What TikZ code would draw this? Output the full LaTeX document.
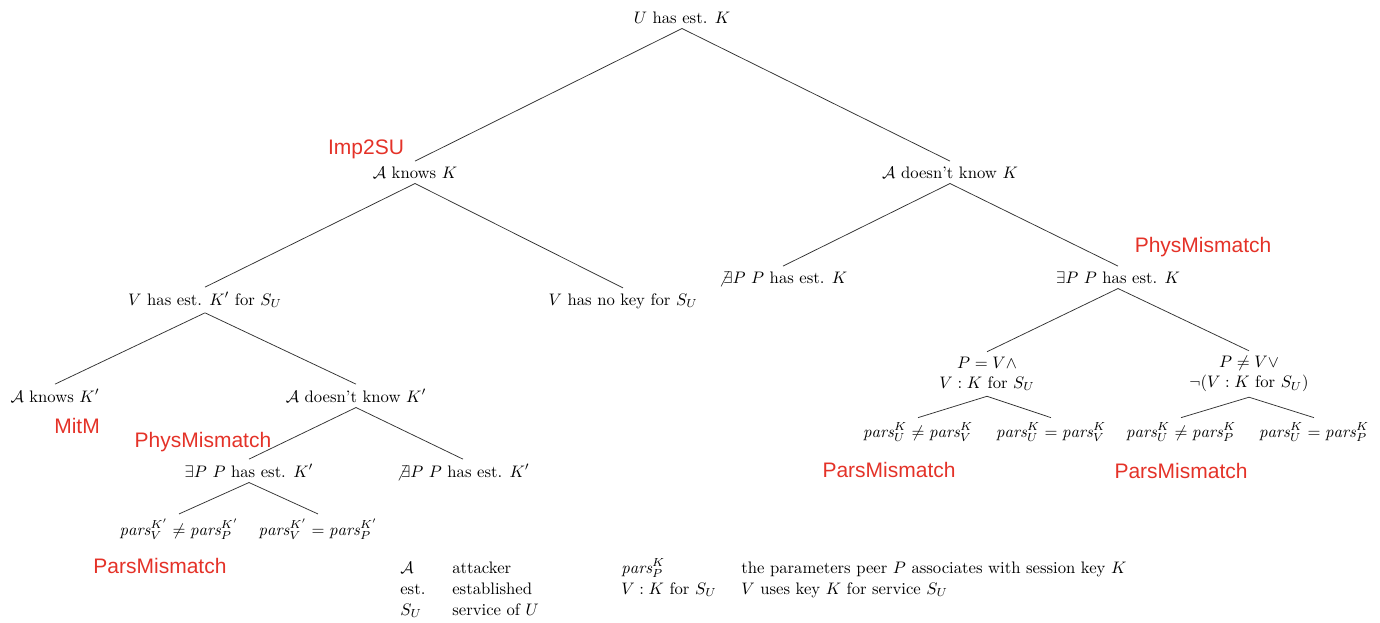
\documentclass[tikz,border=0pt]{standalone}
\usepackage{amsmath,amssymb}
\usepackage{fontspec}
\newfontfamily\labelsans{Liberation Sans}
\definecolor{attackred}{RGB}{228,50,40}
\newcommand{\prs}{\mathit{pars}}
\newcommand{\noexists}{\not\exists}
\begin{document}
\begin{tikzpicture}[x=0.6pt,y=-0.6pt,
  tn/.style={anchor=base,inner sep=3pt},
  tnc/.style={anchor=center,inner sep=3pt,align=center},
  br/.style={draw=black!80,line width=0.45pt},
  attack/.style={anchor=base,inner sep=0pt,text=attackred,font=\labelsans\fontsize{12.6}{15}\selectfont},
  lg/.style={anchor=base west,inner sep=0pt}]
\useasboundingbox (0,0) rectangle (1380,622);

% decision tree
\node[tn] (root) at (682,23) {$U$ has est. $K$};
\node[tn] (ak) at (415,178) {$\mathcal{A}$ knows $K$};
\node[tn] (adk) at (950,178) {$\mathcal{A}$ doesn't know $K$};
\node[tn] (vk) at (205,305) {$V$ has est. $K'$ for $S_U$};
\node[tn] (vno) at (623,305) {$V$ has no key for $S_U$};
\node[tn] (nex) at (783,283) {$\noexists P$ $P$ has est. $K$};
\node[tn] (ex) at (1118,283) {$\exists P$ $P$ has est. $K$};
\node[tn] (akp) at (55,402) {$\mathcal{A}$ knows $K'$};
\node[tn] (adkp) at (356,402) {$\mathcal{A}$ doesn't know $K'$};
\node[tnc] (pv) at (987,374) {$P = V \wedge$\\$V : K$ for $S_U$};
\node[tnc] (pnv) at (1249,374) {$P \neq V \vee$\\$\neg(V : K$ for $S_U)$};
\node[tn] (exp) at (249,477) {$\exists P$ $P$ has est. $K'$};
\node[tn] (nexp) at (463,477) {$\noexists P$ $P$ has est. $K'$};
\node[tn] (q1) at (179,535) {$\prs_V^{K'} \neq \prs_P^{K'}$};
\node[tn] (q2) at (318,535) {$\prs_V^{K'} = \prs_P^{K'}$};
\node[tn] (r1) at (918,437) {$\prs_U^{K} \neq \prs_V^{K}$};
\node[tn] (r2) at (1051,437) {$\prs_U^{K} = \prs_V^{K}$};
\node[tn] (r3) at (1181,437) {$\prs_U^{K} \neq \prs_P^{K}$};
\node[tn] (r4) at (1314,437) {$\prs_U^{K} = \prs_P^{K}$};

\foreach \p/\c in {root/ak,root/adk,ak/vk,ak/vno,adk/nex,adk/ex,
    vk/akp,vk/adkp,ex/pv,ex/pnv,adkp/exp,adkp/nexp,exp/q1,exp/q2,
    pv/r1,pv/r2,pnv/r3,pnv/r4}
  \draw[br] (\p.south) -- (\c.north);

% attack labels
\node[attack] (l1) at (366,154) {Imp2SU};
\node[attack] (l2) at (1203,252) {PhysMismatch};
\node[attack] (l3) at (77,433) {MitM};
\node[attack] (l4) at (203,447) {PhysMismatch};
\node[attack] (l5) at (889,477) {ParsMismatch};
\node[attack] (l6) at (1181,478) {ParsMismatch};
\node[attack] (l7) at (160,573) {ParsMismatch};

% legend
\node[lg] (k1) at (400,573) {$\mathcal{A}$};
\node[lg] (d1) at (452,573) {attacker};
\node[lg] (k2) at (400,594) {est.};
\node[lg] (d2) at (452,594) {established};
\node[lg] (k3) at (400,615) {$S_U$};
\node[lg] (d3) at (452,615) {service of $U$};
\node[lg] (k4) at (621,573) {$\prs_P^{K}$};
\node[lg] (d4) at (741,573) {the parameters peer $P$ associates with session key $K$};
\node[lg] (k5) at (621,594) {$V : K$ for $S_U$};
\node[lg] (d5) at (741,594) {$V$ uses key $K$ for service $S_U$};
\end{tikzpicture}
\end{document}
